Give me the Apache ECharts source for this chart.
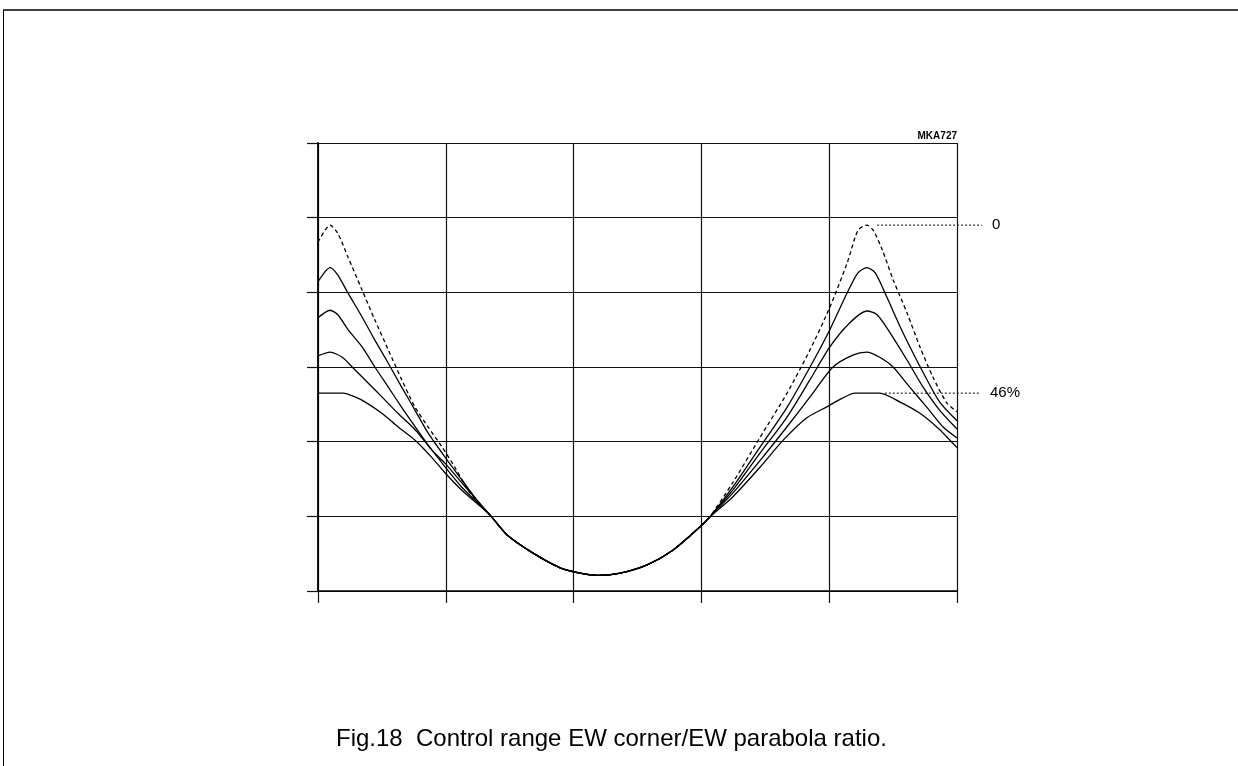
<!DOCTYPE html>
<html>
<head>
<meta charset="utf-8">
<script src="https://cdn.jsdelivr.net/npm/echarts@6/dist/echarts.min.js"></script>
<style>
html,body{margin:0;padding:0;background:#fff;}
#chart{width:1238px;height:766px;}
</style>
</head>
<body>
<div id="chart"></div>
<script>
// Axis ticks (no labels in reference)
const xTicks = [0, 20, 40, 60, 80, 100];
const yTicks = [0, 10, 20, 30, 40, 50, 60];

// Common parabola bottom (all curves coincide)
const bottomX = [26.9, 29.6, 33.6, 37.9, 41.0, 43.8, 47.3, 51.5, 55.6, 59.8, 61.3];
const bottomY = [10.2, 7.5, 5.1, 3.1, 2.4, 2.1, 2.4, 3.5, 5.5, 8.6, 9.9];

// Curve "0" (dashed)
const c0LeftX  = [0, 1.9, 3.1, 4.7, 6.9, 8.9, 11.0, 13.1, 15.2, 17.2, 19.4, 21.4, 23.5, 26.1];
const c0LeftY  = [46.7, 49.0, 47.9, 44.7, 40.3, 36.3, 32.3, 28.3, 24.6, 22.0, 19.3, 16.6, 13.5, 10.8];
const c0RightX = [64.9, 69.2, 73.4, 77.0, 80.1, 82.8, 84.5, 85.9, 86.9, 88.3, 90.0, 92.2, 94.2, 96.2, 98.4, 100];
const c0RightY = [14.5, 20.6, 26.5, 32.3, 38.0, 43.9, 48.3, 49.0, 48.3, 45.7, 41.7, 37.2, 32.7, 28.7, 25.2, 24.0];

// Curve 1
const c1LeftX  = [0, 1.9, 3.1, 4.7, 6.9, 8.9, 11.0, 13.1, 15.2, 17.2, 19.9, 22.5, 25.7];
const c1LeftY  = [41.4, 43.3, 42.3, 39.9, 36.7, 33.6, 30.5, 27.3, 24.2, 21.2, 17.9, 14.9, 11.2];
const c1RightX = [64.9, 69.2, 73.4, 77.0, 80.1, 82.8, 84.5, 85.9, 87.2, 89.0, 91.1, 93.1, 95.3, 97.3, 100];
const c1RightY = [13.9, 19.3, 24.6, 30.0, 35.0, 39.9, 42.6, 43.3, 42.6, 39.4, 35.4, 31.9, 28.3, 25.3, 22.8];

// Curve 2
const c2LeftX  = [0, 1.9, 3.1, 4.7, 6.9, 8.9, 11.0, 13.1, 15.2, 17.8, 19.9, 22.5];
const c2LeftY  = [36.6, 37.6, 37.0, 35.0, 32.7, 30.0, 27.3, 24.6, 22.0, 18.9, 17.1, 14.5];
const c2RightX = [64.9, 69.2, 73.4, 77.0, 80.1, 83.2, 85.9, 87.5, 89.5, 92.2, 94.7, 97.3, 100];
const c2RightY = [13.5, 18.5, 23.3, 28.3, 32.7, 35.9, 37.5, 37.0, 34.6, 30.9, 27.3, 24.2, 21.7];

// Curve 3
const c3LeftX  = [0, 1.9, 3.8, 5.8, 7.8, 10.0, 12.5, 15.2, 17.8, 19.9, 22.5];
const c3LeftY  = [31.5, 32.0, 31.3, 29.6, 27.9, 26.0, 23.8, 21.6, 18.9, 16.6, 13.9];
const c3RightX = [64.9, 69.2, 73.4, 77.0, 80.6, 83.7, 85.9, 87.9, 90.0, 92.6, 95.3, 97.8, 100];
const c3RightY = [13.1, 17.5, 22.0, 26.0, 30.0, 31.6, 32.0, 31.3, 30.0, 27.3, 24.6, 22.0, 20.5];

// Curve "46%"
const c4LeftX  = [0, 3.9, 5.8, 7.4, 10.0, 12.5, 15.2, 17.8, 19.9, 22.5];
const c4LeftY  = [26.5, 26.5, 26.0, 25.3, 23.8, 22.0, 20.2, 17.9, 15.8, 13.5];
const c4RightX = [64.9, 69.2, 72.8, 76.5, 79.7, 82.0, 84.0, 87.9, 91.1, 94.2, 97.3, 100];
const c4RightY = [12.6, 16.6, 20.2, 23.2, 24.7, 25.8, 26.5, 26.5, 25.3, 23.8, 21.6, 19.2];

// Leader lines for labels (extend beyond the plot, on an overlay axis)
const label0X = [87.5, 103.9];
const label0Y = [49.0, 49.0];
const label46X = [88.7, 103.6];
const label46Y = [26.5, 26.5];

const figCode = 'MKA727';
const caption = 'Fig.18  Control range EW corner/EW parabola ratio.';

function pairs(xs, ys) { return xs.map((x, i) => [x, ys[i]]); }
function curve(lx, ly, rx, ry) {
  return pairs(lx, ly).concat(pairs(bottomX, bottomY), pairs(rx, ry));
}

const curves = [
  curve(c0LeftX, c0LeftY, c0RightX, c0RightY),
  curve(c1LeftX, c1LeftY, c1RightX, c1RightY),
  curve(c2LeftX, c2LeftY, c2RightX, c2RightY),
  curve(c3LeftX, c3LeftY, c3RightX, c3RightY),
  curve(c4LeftX, c4LeftY, c4RightX, c4RightY)
];

const chart = echarts.init(document.getElementById('chart'), null, {renderer: 'canvas'});

const series = curves.map((d, i) => ({
  type: 'line',
  data: d,
  showSymbol: false,
  symbol: 'none',
  smooth: 0.25,
  silent: true,
  lineStyle: {
    color: '#000',
    width: 1.3,
    type: i === 0 ? [4, 3] : 'solid'
  },
  z: 5
}));

function leader(xs, ys, text) {
  return {
    type: 'line',
    xAxisIndex: 1,
    yAxisIndex: 1,
    data: pairs(xs, ys),
    symbol: 'none',
    silent: true,
    lineStyle: {color: '#000', width: 1, type: [2, 2]},
    endLabel: {
      show: true,
      formatter: text,
      color: '#000',
      fontFamily: 'Liberation Sans, Arial, sans-serif',
      fontSize: 15,
      distance: 10
    },
    z: 4
  };
}
series.push(leader(label0X, label0Y, '0'));
series.push(leader(label46X, label46Y, '46%'));

const hiddenAxis = {
  type: 'value', show: false,
  axisLine: {show: false}, axisTick: {show: false}, axisLabel: {show: false}, splitLine: {show: false}
};

chart.setOption({
  animation: false,
  backgroundColor: '#fff',
  title: [
    {
      text: figCode,
      right: 276,
      top: 126,
      textStyle: {fontSize: 10, fontWeight: 'bold', color: '#000', fontFamily: 'Liberation Sans, Arial, sans-serif'}
    },
    {
      text: caption,
      left: 331,
      top: 722,
      textStyle: {fontSize: 24, fontWeight: 'normal', color: '#000', fontFamily: 'Liberation Sans, Arial, sans-serif'}
    }
  ],
  grid: [
    {left: 318, right: 281, top: 143, bottom: 175, show: false},
    {left: 318, right: 1238 - 318 - 639 * 1.13, top: 143, bottom: 175, show: false}
  ],
  xAxis: [{
    type: 'value',
    min: xTicks[0],
    max: xTicks[xTicks.length - 1],
    interval: xTicks[1] - xTicks[0],
    axisLine: {show: true, onZero: false, lineStyle: {color: '#000', width: 1.6}},
    axisTick: {show: true, length: 12, lineStyle: {color: '#111', width: 1.2}},
    axisLabel: {show: false},
    splitLine: {show: true, lineStyle: {color: '#111', width: 1.2}}
  }, Object.assign({gridIndex: 1, min: 0, max: 113}, hiddenAxis)],
  yAxis: [{
    type: 'value',
    min: yTicks[0],
    max: yTicks[yTicks.length - 1],
    interval: yTicks[1] - yTicks[0],
    axisLine: {show: true, onZero: false, lineStyle: {color: '#000', width: 1.8}},
    axisTick: {show: true, length: 11, lineStyle: {color: '#111', width: 1.2}},
    axisLabel: {show: false},
    splitLine: {show: true, lineStyle: {color: '#111', width: 1.2}}
  }, Object.assign({gridIndex: 1, min: yTicks[0], max: yTicks[yTicks.length - 1]}, hiddenAxis)],
  graphic: [
    {type: 'line', shape: {x1: 3, y1: 10, x2: 1238, y2: 10}, style: {stroke: '#000', lineWidth: 1.5}},
    {type: 'line', shape: {x1: 3.5, y1: 10, x2: 3.5, y2: 766}, style: {stroke: '#000', lineWidth: 1}}
  ],
  series: series
});
</script>
</body>
</html>
